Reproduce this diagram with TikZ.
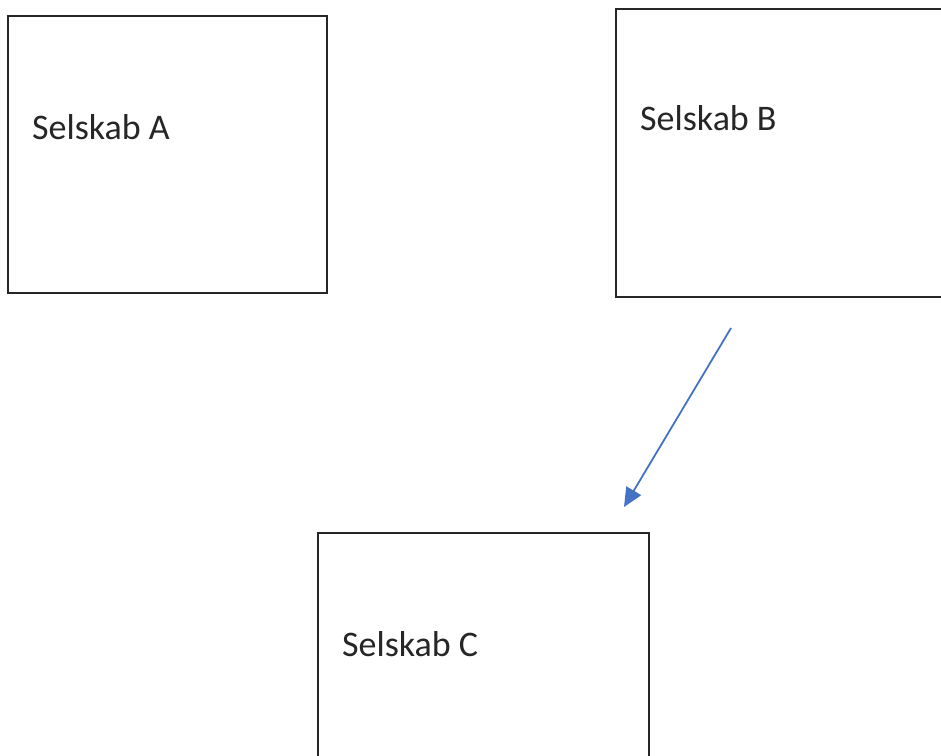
\documentclass[tikz,border=0pt]{standalone}
\usepackage{fontspec}
\setmainfont{Carlito}
\usetikzlibrary{arrows.meta}
\definecolor{arrowblue}{HTML}{4472C4}
\definecolor{boxline}{HTML}{262626}
\begin{document}
\begin{tikzpicture}[x=1pt,y=-1pt,
  company/.style={draw=boxline,line width=1.8pt,fill=white,inner sep=0pt,outer sep=0pt},
  label/.style={anchor=base west,inner sep=0pt,font=\fontsize{36}{40}\selectfont,text=black!85},
  link/.style={draw=arrowblue,line width=1.8pt,-{Triangle[length=19pt,width=17pt]}}]
\clip (0,0) rectangle (941,755);
\fill[white] (0,0) rectangle (941,755);
\node[company,minimum width=319pt,minimum height=277pt] (A) at (167.5,154.5) {};
\node[company,minimum width=340pt,minimum height=288pt] (B) at (786,153) {};
\node[company,minimum width=331pt,minimum height=260pt] (C) at (483.5,663) {};
\node[label] (tA) at (32,139) {Selskab A};
\node[label] (tB) at (640,130) {Selskab B};
\node[label] (tC) at (342,656) {Selskab C};
\coordinate (s) at (731,328);
\coordinate (e) at (624,507);
\draw[link] (s) -- (e);
\end{tikzpicture}
\end{document}
